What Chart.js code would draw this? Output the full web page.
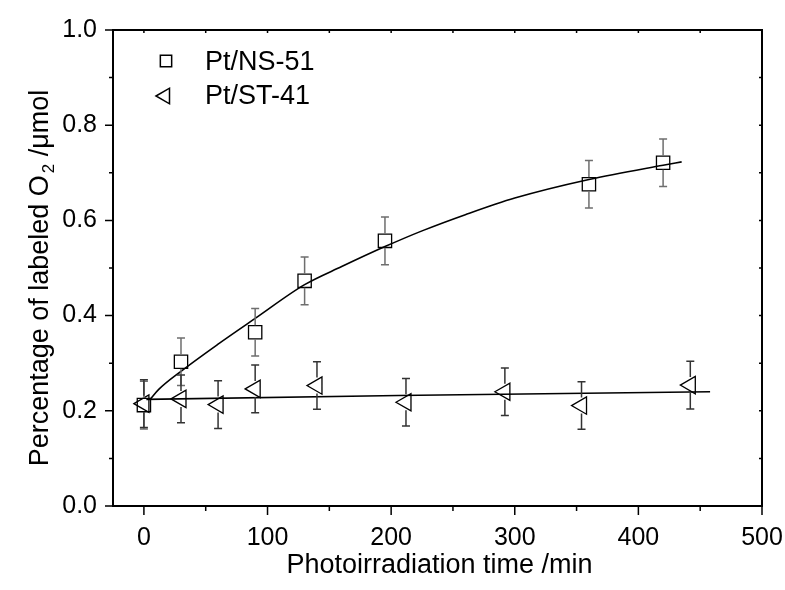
<!DOCTYPE html>
<html>
<head>
<meta charset="utf-8">
<title>Percentage of labeled O2</title>
<script src="https://cdn.jsdelivr.net/npm/chart.js@4.4.0/dist/chart.umd.min.js"></script>
<style>
    html, body { margin: 0; padding: 0; background: #fff; }
    canvas { display: block; }
</style>
</head>
<body>
<canvas id="o2Chart" width="785" height="590"></canvas>
<script>
// Pt/NS-51 measured points
const timeNS = [0, 30, 90, 130, 195, 360, 420];
const valueNS = [0.212, 0.303, 0.365, 0.473, 0.557, 0.676, 0.721];
const errNS = [0.05, 0.05, 0.05, 0.05, 0.05, 0.05, 0.05];

// Pt/ST-41 measured points
const timeST = [0, 30, 60, 90, 140, 212, 292, 354, 442];
const valueST = [0.215, 0.225, 0.213, 0.246, 0.253, 0.218, 0.240, 0.211, 0.254];
const errST = [0.05, 0.05, 0.05, 0.05, 0.05, 0.05, 0.05, 0.05, 0.05];

// fitted curves
const fitNSx = [5, 12, 30, 60, 90, 130, 160, 195, 225, 260, 300, 360, 420, 435];
const fitNSy = [0.224, 0.245, 0.283, 0.340, 0.394, 0.465, 0.503, 0.545, 0.578, 0.612, 0.647, 0.686, 0.716, 0.723];
const fitSTx = [2, 206, 458];
const fitSTy = [0.224, 0.232, 0.240];

// axis ticks
const xTicks = [0, 50, 100, 150, 200, 250, 300, 350, 400, 450, 500];
const yTicks = [0, 0.1, 0.2, 0.3, 0.4, 0.5, 0.6, 0.7, 0.8, 0.9, 1.0];

const FONT = '"Liberation Sans", Arial, sans-serif';
Chart.defaults.font.family = FONT;
Chart.defaults.color = '#000';

const toXY = (xs, ys) => xs.map((x, i) => ({ x: x, y: ys[i] }));

// error bars, drawn through the chart scales
const errorBars = {
    id: 'errorBars',
    afterDatasetsDraw(chart) {
        const { ctx, scales: { x, y } } = chart;
        const sets = [
            { xs: timeNS, ys: valueNS, es: errNS, color: '#6e6e6e', gap: 7 },
            { xs: timeST, ys: valueST, es: errST, color: '#333', gap: 8 }
        ];
        ctx.save();
        ctx.lineWidth = 1.5;
        sets.forEach(s => {
            ctx.strokeStyle = s.color;
            s.xs.forEach((t, i) => {
                const px = x.getPixelForValue(t);
                const pc = y.getPixelForValue(s.ys[i]);
                const pTop = y.getPixelForValue(s.ys[i] + s.es[i]);
                const pBot = y.getPixelForValue(s.ys[i] - s.es[i]);
                ctx.beginPath();
                ctx.moveTo(px, pTop); ctx.lineTo(px, pc - s.gap);
                ctx.moveTo(px, pc + s.gap); ctx.lineTo(px, pBot);
                ctx.moveTo(px - 4, pTop); ctx.lineTo(px + 4, pTop);
                ctx.moveTo(px - 4, pBot); ctx.lineTo(px + 4, pBot);
                ctx.stroke();
            });
        });
        ctx.restore();
    }
};

// box, tick marks, titles and legend
const frameAndText = {
    id: 'frameAndText',
    afterDraw(chart) {
        const { ctx, chartArea: a, scales: { x, y } } = chart;
        ctx.save();
        ctx.strokeStyle = '#000';
        ctx.lineWidth = 2;
        ctx.strokeRect(a.left, a.top, a.right - a.left, a.bottom - a.top);

        ctx.lineWidth = 1.5;
        ctx.beginPath();
        xTicks.forEach(v => {
            const px = x.getPixelForValue(v);
            const len = v % 100 === 0 ? 9 : 5;
            ctx.moveTo(px, a.bottom); ctx.lineTo(px, a.bottom + len);
            ctx.moveTo(px, a.top); ctx.lineTo(px, a.top + 3);
        });
        yTicks.forEach((v, i) => {
            const py = y.getPixelForValue(v);
            const len = i % 2 === 0 ? 8 : 4;
            ctx.moveTo(a.left - len, py); ctx.lineTo(a.left, py);
            ctx.moveTo(a.right - 3, py); ctx.lineTo(a.right, py);
        });
        ctx.stroke();

        ctx.fillStyle = '#000';
        // x title
        ctx.font = '27px ' + FONT;
        ctx.textAlign = 'center';
        ctx.textBaseline = 'alphabetic';
        ctx.fillText('Photoirradiation time /min', (a.left + a.right) / 2 + 2, 573);

        // y title with subscript
        ctx.save();
        ctx.translate(48, 278);
        ctx.rotate(-Math.PI / 2);
        ctx.textAlign = 'left';
        const p1 = 'Percentage of labeled O', sub = '2', p2 = ' /\u03bcmol';
        ctx.font = '27px ' + FONT;
        const w1 = ctx.measureText(p1).width;
        const w2 = ctx.measureText(p2).width;
        ctx.font = '17px ' + FONT;
        const ws = ctx.measureText(sub).width;
        let cx = -(w1 + 2 + ws + w2) / 2;
        ctx.font = '27px ' + FONT;
        ctx.fillText(p1, cx, 0);
        cx += w1 + 2;
        ctx.font = '17px ' + FONT;
        ctx.fillText(sub, cx, 6);
        cx += ws;
        ctx.font = '27px ' + FONT;
        ctx.fillText(p2, cx, 0);
        ctx.restore();

        // legend
        ctx.strokeStyle = '#000';
        ctx.fillStyle = 'rgba(0,0,0,0)';
        Chart.helpers.drawPoint(ctx, { pointStyle: 'rect', radius: 8, rotation: 0, borderWidth: 1.3 }, 166, 61);
        Chart.helpers.drawPoint(ctx, { pointStyle: 'triangle', radius: 9, rotation: -90, borderWidth: 1.3 }, 165, 96);
        ctx.fillStyle = '#000';
        ctx.font = '27px ' + FONT;
        ctx.textAlign = 'left';
        ctx.fillText('Pt/NS-51', 205, 70);
        ctx.fillText('Pt/ST-41', 205, 104);
        ctx.restore();
    }
};

const o2Ctx = document.getElementById('o2Chart').getContext('2d');
const o2Chart = new Chart(o2Ctx, {
    type: 'scatter',
    data: {
        datasets: [
            {
                label: 'Pt/NS-51',
                data: toXY(timeNS, valueNS),
                pointStyle: 'rect',
                pointRadius: 9.4,
                pointBorderWidth: 1.3,
                pointBorderColor: '#000',
                pointBackgroundColor: 'rgba(0,0,0,0)',
                showLine: false
            },
            {
                label: 'Pt/ST-41',
                data: toXY(timeST, valueST),
                pointStyle: 'triangle',
                pointRotation: -90,
                pointRadius: 10,
                pointBorderWidth: 1.3,
                pointBorderColor: '#000',
                pointBackgroundColor: 'rgba(0,0,0,0)',
                showLine: false
            },
            {
                label: 'fit NS-51',
                data: toXY(fitNSx, fitNSy),
                showLine: true,
                pointRadius: 0,
                borderColor: '#000',
                borderWidth: 1.6,
                cubicInterpolationMode: 'monotone'
            },
            {
                label: 'fit ST-41',
                data: toXY(fitSTx, fitSTy),
                showLine: true,
                pointRadius: 0,
                borderColor: '#000',
                borderWidth: 1.6
            }
        ]
    },
    options: {
        responsive: false,
        animation: false,
        devicePixelRatio: 1,
        layout: { padding: { top: 30, right: 23, left: 0, bottom: 0 } },
        plugins: {
            legend: { display: false },
            tooltip: { enabled: false }
        },
        scales: {
            x: {
                type: 'linear',
                min: -25,
                max: 500,
                grid: { display: false, drawTicks: false },
                border: { display: false },
                afterBuildTicks: s => { s.ticks = xTicks.map(v => ({ value: v })); },
                afterFit: s => { s.height = 84; s.paddingLeft = 0; s.paddingRight = 0; },
                ticks: {
                    autoSkip: false,
                    maxRotation: 0,
                    padding: 17,
                    font: { size: 25 },
                    callback: v => (v % 100 === 0 ? String(v) : '')
                }
            },
            y: {
                type: 'linear',
                min: 0,
                max: 1,
                grid: { display: false, drawTicks: false },
                border: { display: false },
                afterBuildTicks: s => { s.ticks = yTicks.map(v => ({ value: v })); },
                afterFit: s => { s.width = 113; s.paddingTop = 0; s.paddingBottom = 0; },
                ticks: {
                    autoSkip: false,
                    padding: 16,
                    font: { size: 25 },
                    callback: (v, i) => (i % 2 === 0 ? v.toFixed(1) : '')
                }
            }
        }
    },
    plugins: [errorBars, frameAndText]
});
</script>
</body>
</html>
